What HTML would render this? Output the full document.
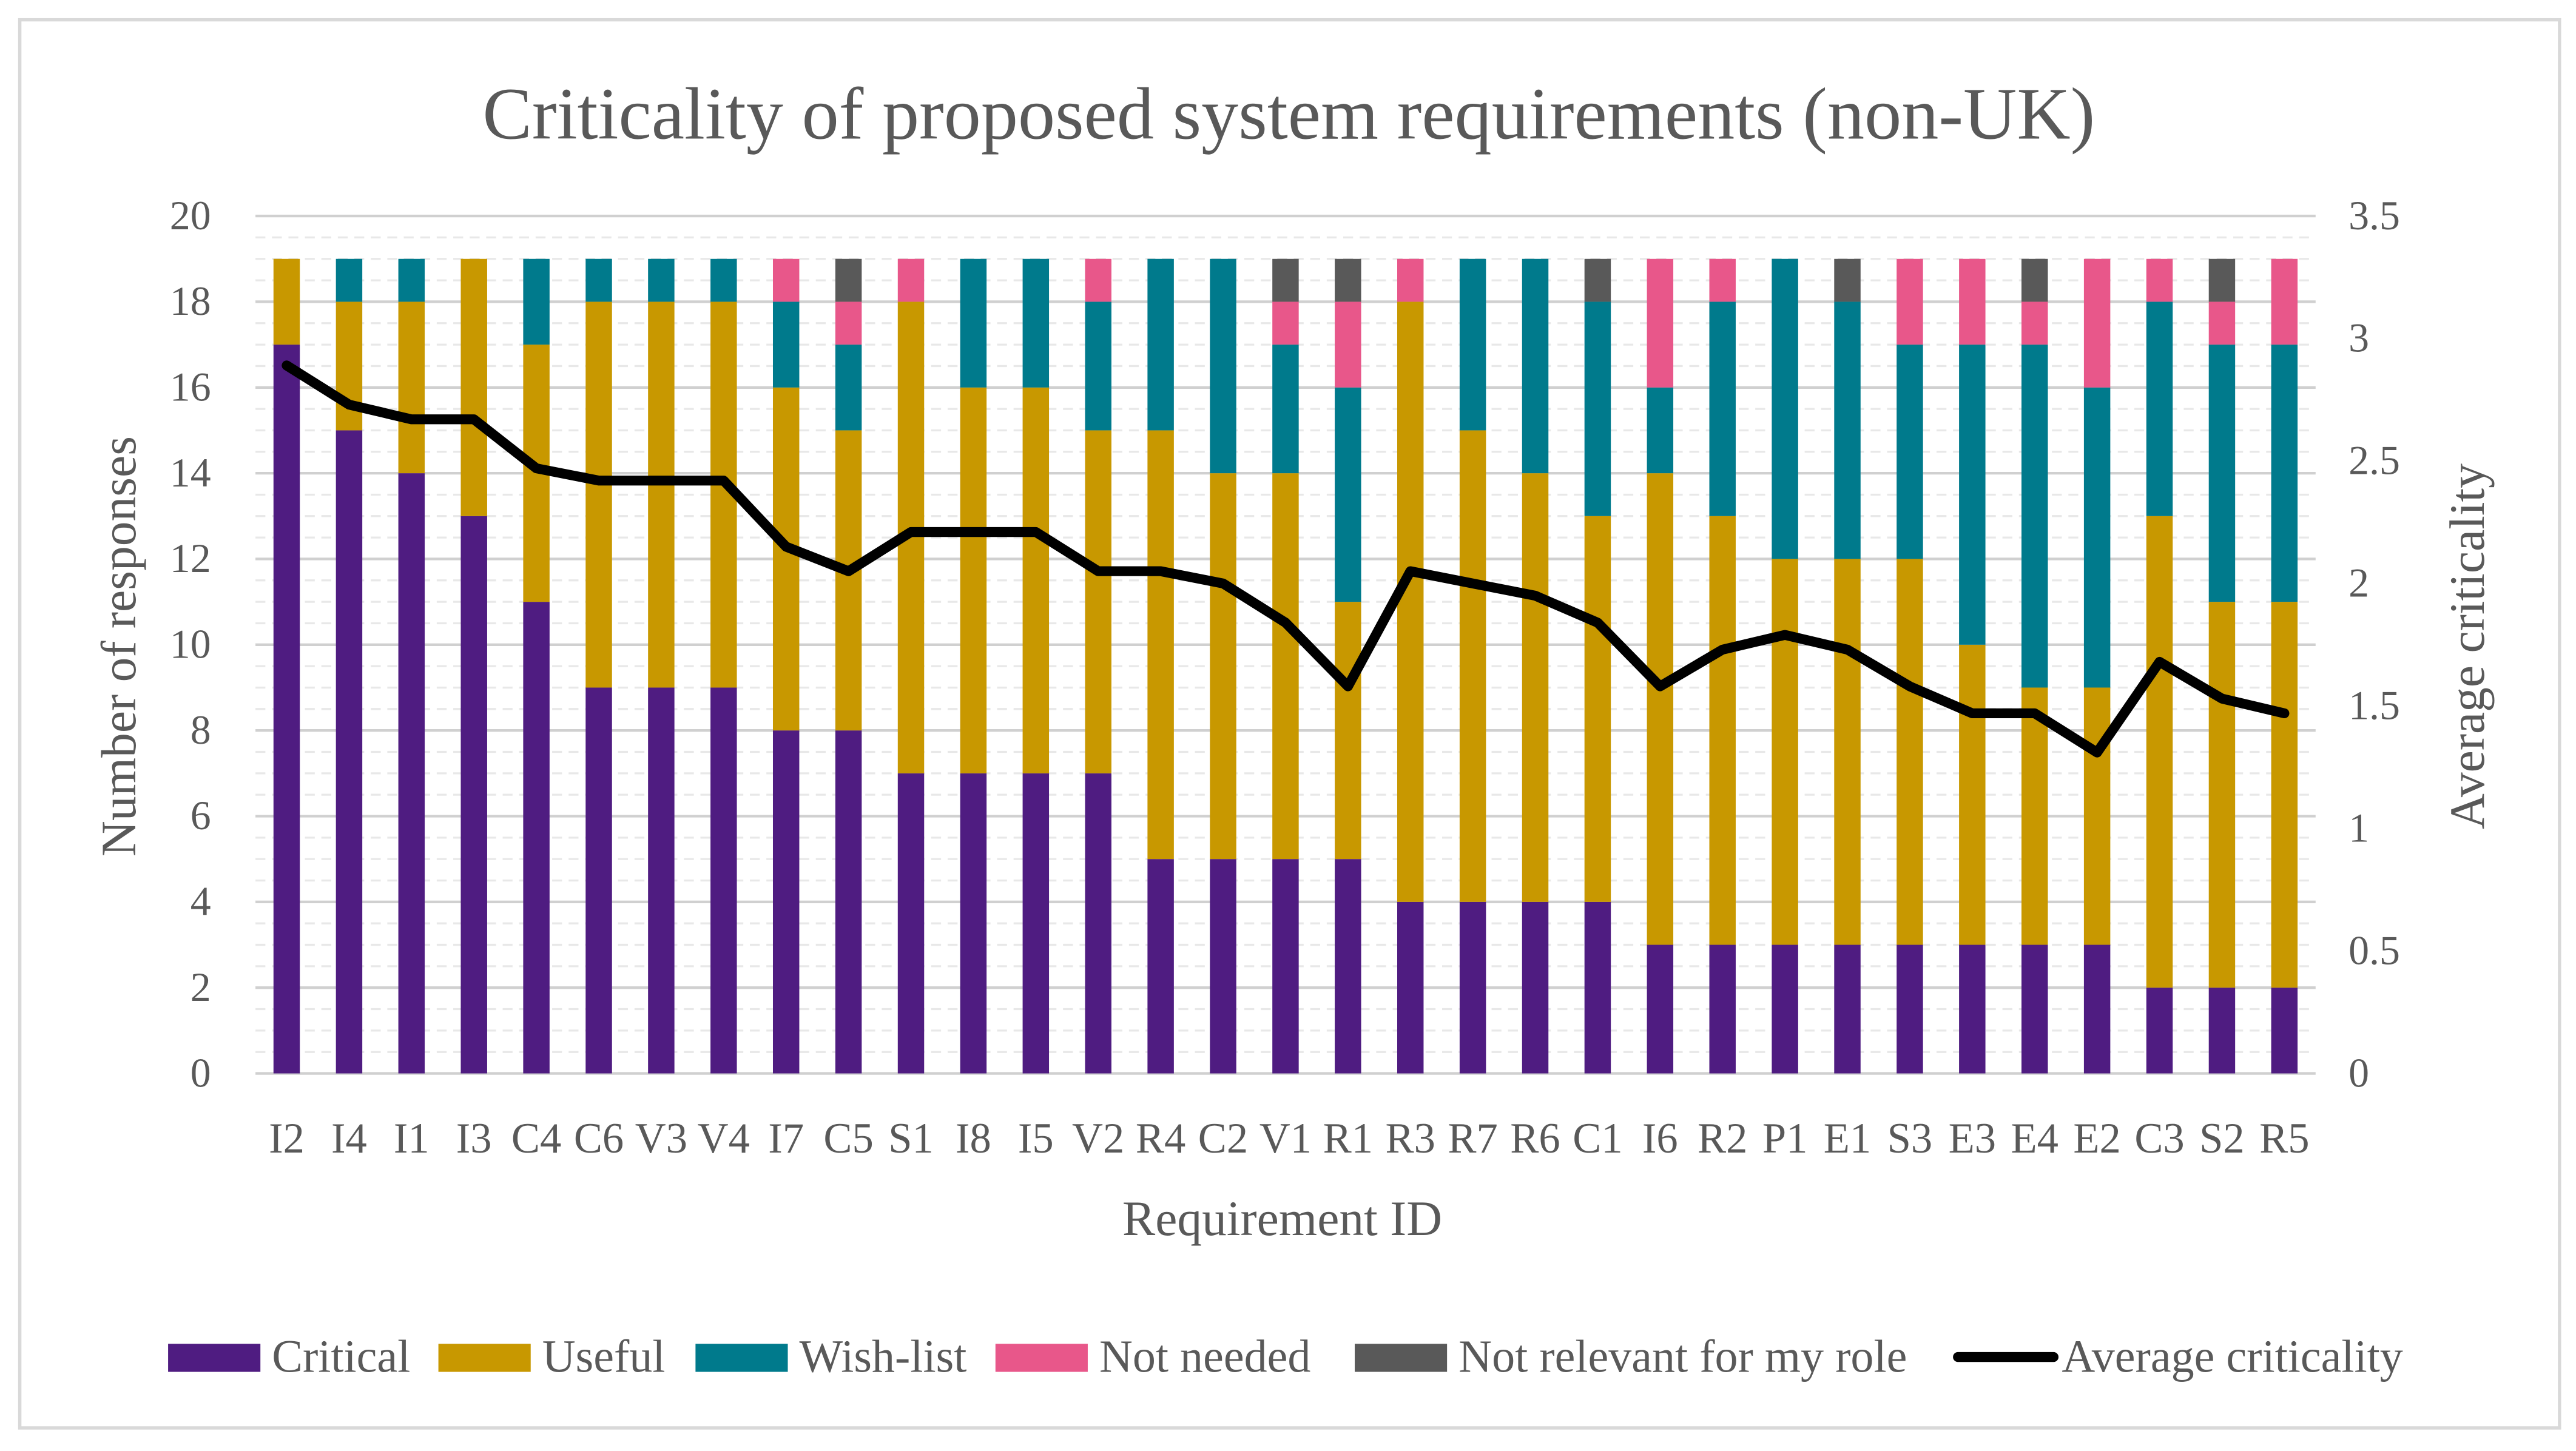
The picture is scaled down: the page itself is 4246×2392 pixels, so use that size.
<!DOCTYPE html>
<html><head><meta charset="utf-8"><style>
html,body{margin:0;padding:0;background:#fff;}
svg{display:block;}
text{font-family:"Liberation Serif",serif;fill:#595959;}
</style></head><body>
<svg id="chart" width="4246" height="2392" viewBox="0 0 1563 880" preserveAspectRatio="none" xmlns="http://www.w3.org/2000/svg">
<rect x="12" y="12" width="1541" height="854" fill="#fff" stroke="#d9d9d9" stroke-width="2"/>
<text x="782" y="84" font-size="45" text-anchor="middle">Criticality of proposed  system requirements (non-UK)</text>
<g id="grid"></g>
<g id="bars"></g>
<g id="line"></g>
<g id="axes"></g>
<text transform="translate(82,392) rotate(-90)" font-size="30" text-anchor="middle">Number of responses</text>
<text transform="translate(1507,392) rotate(-90)" font-size="30" text-anchor="middle">Average criticality</text>
<text x="778" y="749" font-size="30" text-anchor="middle">Requirement ID</text>
<g id="legend"></g>
</svg>
<script>
const categories=["I2","I4","I1","I3","C4","C6","V3","V4","I7","C5","S1","I8","I5","V2","R4","C2","V1","R1","R3","R7","R6","C1","I6","R2","P1","E1","S3","E3","E4","E2","C3","S2","R5"];
const critical=[17,15,14,13,11,9,9,9,8,8,7,7,7,7,5,5,5,5,4,4,4,4,3,3,3,3,3,3,3,3,2,2,2];
const useful=[2,3,4,6,6,9,9,9,8,7,11,9,9,8,10,9,9,6,14,11,10,9,11,10,9,9,9,7,6,6,11,9,9];
const wishList=[0,1,1,0,2,1,1,1,2,2,0,3,3,3,4,5,3,5,0,4,5,5,2,5,7,6,5,7,8,7,5,6,6];
const notNeeded=[0,0,0,0,0,0,0,0,1,1,1,0,0,1,0,0,1,2,1,0,0,0,3,1,0,0,2,2,1,3,1,1,2];
const notRelevant=[0,0,0,0,0,0,0,0,0,1,0,0,0,0,0,0,1,1,0,0,0,1,0,0,0,1,0,0,1,0,0,1,0];
const avgCriticality=[2.89,2.73,2.67,2.67,2.47,2.42,2.42,2.42,2.15,2.05,2.21,2.21,2.21,2.05,2.05,2.0,1.84,1.58,2.05,2.0,1.95,1.84,1.58,1.73,1.79,1.73,1.58,1.47,1.47,1.31,1.68,1.53,1.47];
const leftTicks=[0,2,4,6,8,10,12,14,16,18,20];
const rightTicks=["0","0.5","1","1.5","2","2.5","3","3.5"];

const NS="http://www.w3.org/2000/svg";
const X0=155,X1=1405,Y0=651,Y1=131;
const band=(X1-X0)/categories.length;
const xc=i=>X0+band*(i+0.5);
const y=v=>Y0-(v/20)*(Y0-Y1);
const y2=v=>Y0-(v/3.5)*(Y0-Y1);
function mk(tag,attrs,parent){const e=document.createElementNS(NS,tag);for(const k in attrs)e.setAttribute(k,attrs[k]);parent.appendChild(e);return e;}

const grid=document.getElementById('grid');
for(let v=0;v<=20;v+=0.5){
  const major=(v%2===0);
  const l=mk('line',{x1:X0,x2:X1,y1:y(v),y2:y(v),stroke:major?'#d0d0d0':'#e8e8e8','stroke-width':major?1.6:1.2},grid);
  if(!major)l.setAttribute('stroke-dasharray','6 4');
  
  
}

const series=[[critical,'#4f1c81','critical'],[useful,'#c89800','useful'],[wishList,'#007a8c','wish-list'],[notNeeded,'#e8578a','not-needed'],[notRelevant,'#595959','not-relevant']];
const bars=document.getElementById('bars');
const bw=16;
categories.forEach((c,i)=>{
  let base=0;
  series.forEach(([arr,col,nm])=>{
    const v=arr[i];
    if(v>0){
      const r=mk('rect',{x:xc(i)-bw/2,y:y(base+v),width:bw,height:y(base)-y(base+v),fill:col},bars);
      
      
    }
    base+=v;
  });
});

const lg=document.getElementById('line');
const pts=avgCriticality.map((v,i)=>xc(i)+','+y2(v)).join(' ');
const pl=mk('polyline',{points:pts,fill:'none',stroke:'#000','stroke-width':6,'stroke-linejoin':'round','stroke-linecap':'round'},lg);



const axes=document.getElementById('axes');
leftTicks.forEach(v=>{
  const t=mk('text',{x:128,y:y(v)+8,'font-size':25,'text-anchor':'end'},axes);
  t.textContent=v;
  
  
});
rightTicks.forEach(s=>{
  const t=mk('text',{x:1425,y:y2(parseFloat(s))+8,'font-size':25,'text-anchor':'start'},axes);
  t.textContent=s;
  
  
});
categories.forEach((c,i)=>{
  const t=mk('text',{x:xc(i),y:699,'font-size':26,'text-anchor':'middle'},axes);
  t.textContent=c;
  
  
});

const legend=document.getElementById('legend');
const legendItems=[['Critical','#4f1c81',102,'rect'],['Useful','#c89800',266,'rect'],['Wish-list','#007a8c',422,'rect'],['Not needed','#e8578a',604,'rect'],['Not relevant for my role','#595959',822,'rect'],['Average criticality','#000',1188,'line']];
legendItems.forEach(([label,col,x,kind])=>{
  let s;
  if(kind==='rect'){s=mk('rect',{x:x,y:815,width:56,height:17,fill:col},legend);}
  else{s=mk('line',{x1:x,x2:x+58,y1:823,y2:823,stroke:col,'stroke-width':6,'stroke-linecap':'round'},legend);}
  
  
  const t=mk('text',{x:x+63,y:832,'font-size':28},legend);
  t.textContent=label;
  
  
});
</script>
</body></html>
